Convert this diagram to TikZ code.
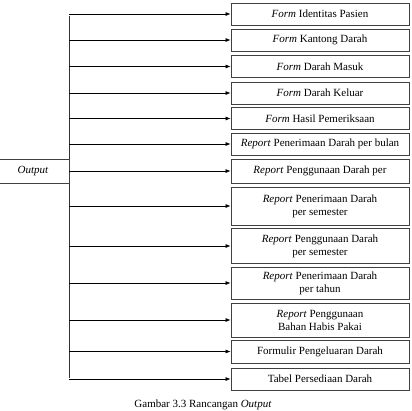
\documentclass[tikz,border=0pt]{standalone}
\usepackage{fontspec}
\setmainfont{Liberation Serif}
\usetikzlibrary{calc,arrows.meta}

\begin{document}
\begin{tikzpicture}[x=1pt,y=-1pt,
		outbox/.style={draw=black!75, line width=0.8pt, minimum width=178pt, inner sep=1pt, align=center, font=\fontsize{11}{13}\selectfont},
		onerow/.style={outbox, minimum height=22pt},
		tworow/.style={outbox, minimum height=35pt},
		feed/.style={black, line width=0.7pt, -{Latex[length=5pt,width=4pt]}}]
		\useasboundingbox (0,0) rectangle (412,410);
		\coordinate (TrunkTop) at (69,16);
		\coordinate (TrunkBot) at (69,378);
		\draw [black!80, line width=0.8pt] (TrunkTop) -- (TrunkBot);% Draw trunk line

		% Output box, left edge falls outside the page
		\node[draw=black!75, line width=0.8pt, minimum width=72pt, minimum height=24pt, font=\fontsize{11}{13}\selectfont] (out) at (33,171) {\textit{Output}};

		% Boxes on the right
		\node[onerow] (f1) at (320,14) {\textit{Form} Identitas Pasien};
		\node[onerow] (f2) at (320,40) {\textit{Form} Kantong Darah};
		\node[onerow] (f3) at (320,66.5) {\textit{Form} Darah Masuk};
		\node[onerow] (f4) at (320,93) {\textit{Form} Darah Keluar};
		\node[onerow] (f5) at (320,118.5) {\textit{Form} Hasil Pemeriksaan};
		\node[onerow] (r1) at (320,144) {\textit{Report} Penerimaan Darah per bulan};
		\node[onerow, minimum height=24pt] (r2) at (320,171) {\textit{Report} Penggunaan Darah per};
		\node[tworow, minimum height=38pt] (r3) at (320,206) {\textit{Report} Penerimaan Darah\\per semester};
		\node[tworow] (r4) at (320,246) {\textit{Report} Penggunaan Darah\\per semester};
		\node[tworow, minimum height=32pt] (r5) at (320,283) {\textit{Report} Penerimaan Darah\\per tahun};
		\node[tworow, minimum height=34pt] (r6) at (320,320) {\textit{Report} Penggunaan\\Bahan Habis Pakai};
		\node[onerow, minimum height=23pt] (r7) at (320,351.5) {Formulir Pengeluaran Darah};
		\node[onerow] (r8) at (320,379) {Tabel Persediaan Darah};

		\foreach \b in {f1,f2,f3,f4,f5,r1,r2,r3,r4,r5,r6,r7,r8}{% one arrow per box
			\draw [feed] (TrunkTop |- \b.west) -- (\b.west);
		}

		% caption at the foot of the page
		\node[anchor=base, font=\fontsize{11}{13}\selectfont] (cap) at (203,407.3) {Gambar 3.3 Rancangan \textit{Output}};
	  \end{tikzpicture}
\end{document}
